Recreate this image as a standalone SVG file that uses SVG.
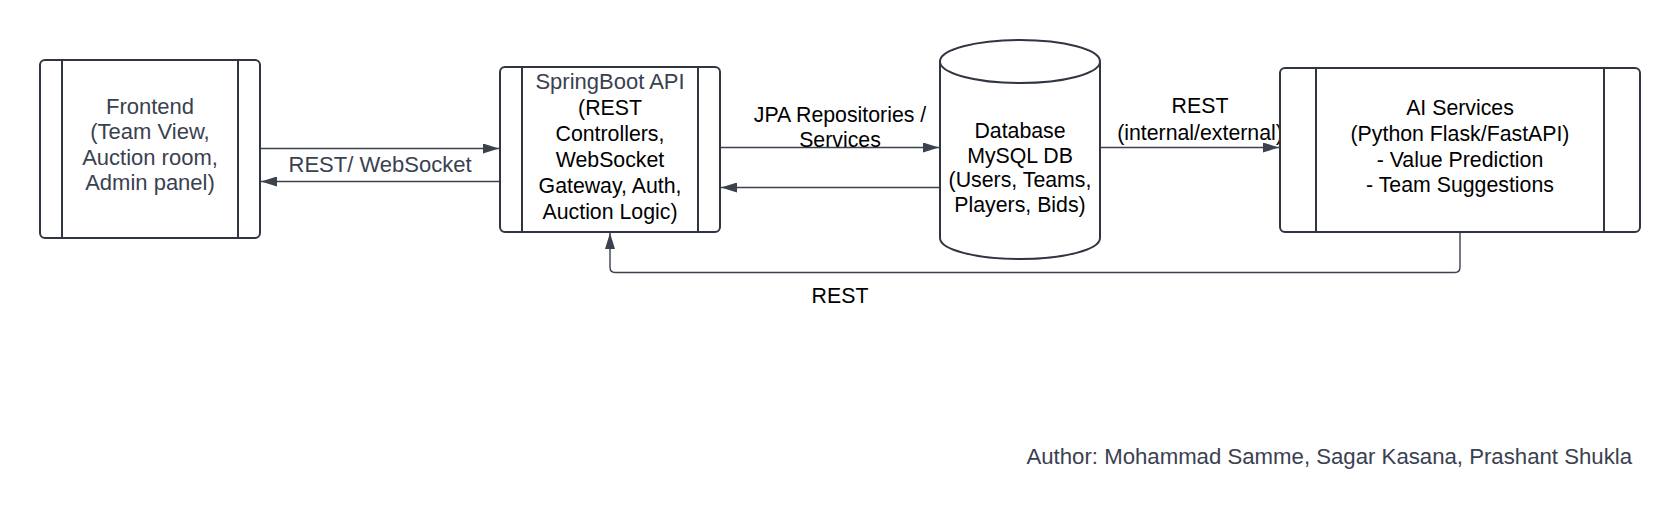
<svg xmlns="http://www.w3.org/2000/svg" width="1680" height="520" viewBox="0 0 1680 520">
<defs>
<style>
.box{fill:#fff;stroke:#2f3541;stroke-width:2}
.div{stroke:#2f3541;stroke-width:2}
.t{font-family:"Liberation Sans",Arial,sans-serif;font-size:21.3px;text-anchor:middle;fill:#000}
.g{fill:#3a4150;font-size:22px}
.c{fill:none;stroke:#3b424e;stroke-width:1.4}
</style>
<marker id="ah" viewBox="0 0 16 10" refX="16" refY="5" markerWidth="16" markerHeight="10" markerUnits="userSpaceOnUse" orient="auto">
<path d="M0,0 L16,5 L0,10 Z" fill="#3b424e"/>
</marker>
</defs>
<rect width="1680" height="520" fill="#fff"/>

<g id="connectors">
<line class="c" x1="260" y1="148.5" x2="499" y2="148.5" marker-end="url(#ah)"/>
<line class="c" x1="500" y1="181.5" x2="261" y2="181.5" marker-end="url(#ah)"/>
<line class="c" x1="720" y1="147.5" x2="939" y2="147.5" marker-end="url(#ah)"/>
<line class="c" x1="940" y1="187.5" x2="721" y2="187.5" marker-end="url(#ah)"/>
<line class="c" x1="1100" y1="147.5" x2="1279" y2="147.5" marker-end="url(#ah)"/>
<path class="c" d="M1460,232 V267 Q1460,272.5 1455,272.5 H615 Q610,272.5 610,267 V233" marker-end="url(#ah)"/>
<text class="t g" x="380" y="172">REST/ WebSocket</text>
<text class="t" x="840" y="122">JPA Repositories /</text>
<text class="t" x="840" y="147">Services</text>
<text class="t" x="1200" y="113">REST</text>
<text class="t" x="1200" y="140">(internal/external)</text>
<text class="t" x="840" y="303">REST</text>
</g>

<g id="frontend">
<rect class="box" x="40" y="60" width="220" height="178" rx="5"/>
<line class="div" x1="62" y1="60" x2="62" y2="238"/>
<line class="div" x1="238" y1="60" x2="238" y2="238"/>
<text class="t g" x="150" y="113.5">Frontend</text>
<text class="t g" x="150" y="139">(Team View,</text>
<text class="t g" x="150" y="164.5">Auction room,</text>
<text class="t g" x="150" y="190">Admin panel)</text>
</g>

<g id="springboot">
<rect class="box" x="500" y="67" width="220" height="165" rx="5"/>
<line class="div" x1="522" y1="67" x2="522" y2="232"/>
<line class="div" x1="698" y1="67" x2="698" y2="232"/>
<text class="t g" x="610" y="89">SpringBoot API</text>
<text class="t" x="610" y="115">(REST</text>
<text class="t" x="610" y="141">Controllers,</text>
<text class="t" x="610" y="167">WebSocket</text>
<text class="t" x="610" y="193">Gateway, Auth,</text>
<text class="t" x="610" y="219">Auction Logic)</text>
</g>

<g id="database">
<path class="box" d="M940,61.5 V238 A80,21 0 0 0 1100,238 V61.5"/>
<ellipse class="box" cx="1020" cy="61.5" rx="80" ry="21.5"/>
<text class="t" x="1020" y="138">Database</text>
<text class="t" x="1020" y="162.5">MySQL DB</text>
<text class="t" x="1020" y="187">(Users, Teams,</text>
<text class="t" x="1020" y="211.5">Players, Bids)</text>
</g>

<g id="ai-services">
<rect class="box" x="1280" y="68" width="360" height="164" rx="5"/>
<line class="div" x1="1316" y1="68" x2="1316" y2="232"/>
<line class="div" x1="1604" y1="68" x2="1604" y2="232"/>
<text class="t" x="1460" y="115">AI Services</text>
<text class="t" x="1460" y="141">(Python Flask/FastAPI)</text>
<text class="t" x="1460" y="167">- Value Prediction</text>
<text class="t" x="1460" y="192">- Team Suggestions</text>
</g>

<g id="author">
<text class="t g" x="1632" y="464" style="text-anchor:end;font-size:22.2px">Author: Mohammad Samme, Sagar Kasana, Prashant Shukla</text>
</g>
</svg>
